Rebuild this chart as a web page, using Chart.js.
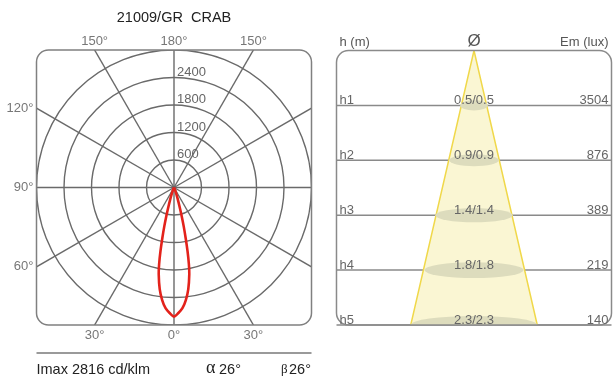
<!DOCTYPE html>
<html>
<head>
<meta charset="utf-8">
<script src="https://cdn.jsdelivr.net/npm/chart.js@4.4.1/dist/chart.umd.min.js"></script>
<style>
  html, body { margin: 0; padding: 0; background: #fff; }
  #wrap { position: relative; width: 613px; height: 377px; }
  canvas { position: absolute; top: 0; }
  #polar { left: 0; }
  #cone { left: 330px; }
</style>
</head>
<body>
<div id="wrap">
  <canvas id="polar" width="330" height="377"></canvas>
  <canvas id="cone" width="283" height="377"></canvas>
</div>
<script>
// ─── DATA ───────────────────────────────────────────────
const TITLE = '21009/GR  CRAB';
const IMAX = 2816;
const ALPHA = 26;
const BETA = 26;

// intensity (cd/klm) vs angle from nadir, same on both sides
const curveAngles = [0, 2, 4, 6, 8, 10, 11, 12, 13, 14, 15, 16, 18, 20, 25, 30, 40, 60, 90];
const curveValues = [2816, 2740, 2640, 2470, 2240, 1920, 1700, 1420, 1130, 880, 650, 470, 250, 140, 50, 15, 0, 0, 0];

// polar grid
const ringValues = [600, 1200, 1800, 2400, 3000];
const ringLabels = ['600', '1200', '1800', '2400'];
const spokeAngles = [0, 30, 60, 90, 120, 150, 180, 210, 240, 270, 300, 330];
const angleLabels = [-150, 180, 150, -120, -90, -60, -30, 0, 30];
const POLAR_MAX = 3000;

// cone table
const heightLabels = ['h1', 'h2', 'h3', 'h4', 'h5'];
const heights = [1, 2, 3, 4, 5];
const diameters = [0.5, 0.9, 1.4, 1.8, 2.3];
const diameterLabels = ['0.5/0.5', '0.9/0.9', '1.4/1.4', '1.8/1.8', '2.3/2.3'];
const luxValues = [3504, 876, 389, 219, 140];

const FONT = '"Liberation Sans", Arial, sans-serif';

function roundRect(ctx, x, y, w, h, r) {
    ctx.beginPath();
    ctx.moveTo(x + r, y);
    ctx.lineTo(x + w - r, y);
    ctx.arcTo(x + w, y, x + w, y + r, r);
    ctx.lineTo(x + w, y + h - r);
    ctx.arcTo(x + w, y + h, x + w - r, y + h, r);
    ctx.lineTo(x + r, y + h);
    ctx.arcTo(x, y + h, x, y + h - r, r);
    ctx.lineTo(x, y + r);
    ctx.arcTo(x, y, x + r, y, r);
    ctx.closePath();
}

// ─── POLAR DIAGRAM ──────────────────────────────────────
const curvePoints = [];
for (let i = curveAngles.length - 1; i >= 0; i--) {
    const a = -curveAngles[i] * Math.PI / 180;
    curvePoints.push({ x: curveValues[i] * Math.sin(a), y: -curveValues[i] * Math.cos(a) });
}
for (let i = 1; i < curveAngles.length; i++) {
    const a = curveAngles[i] * Math.PI / 180;
    curvePoints.push({ x: curveValues[i] * Math.sin(a), y: -curveValues[i] * Math.cos(a) });
}

const polarGrid = {
    id: 'polarGrid',
    beforeDatasetsDraw(chart) {
        const { ctx, chartArea: area, scales: { x, y } } = chart;
        const cx = x.getPixelForValue(0), cy = y.getPixelForValue(0);

        ctx.save();
        roundRect(ctx, area.left, area.top, area.width, area.height, 12);
        ctx.clip();
        ctx.strokeStyle = '#6a6a6a';
        ctx.lineWidth = 1.4;
        ringValues.forEach(v => {
            const r = x.getPixelForValue(v) - cx;
            ctx.beginPath();
            ctx.arc(cx, cy, r, 0, Math.PI * 2);
            ctx.stroke();
        });
        spokeAngles.forEach(a => {
            const rad = a * Math.PI / 180;
            ctx.beginPath();
            ctx.moveTo(cx, cy);
            ctx.lineTo(x.getPixelForValue(6000 * Math.sin(rad)), y.getPixelForValue(-6000 * Math.cos(rad)));
            ctx.stroke();
        });
        ctx.restore();

        ctx.save();
        ctx.strokeStyle = '#808080';
        ctx.lineWidth = 1.5;
        roundRect(ctx, area.left, area.top, area.width, area.height, 12);
        ctx.stroke();
        ctx.restore();
    },
    afterDraw(chart) {
        const { ctx, chartArea: area, scales: { x, y } } = chart;
        const cx = x.getPixelForValue(0);
        ctx.save();

        // radial values
        ctx.font = '13px ' + FONT;
        ctx.fillStyle = '#666';
        ctx.textAlign = 'left';
        ctx.textBaseline = 'alphabetic';
        ringLabels.forEach((t, i) => {
            ctx.fillText(t, cx + 3, y.getPixelForValue(ringValues[i]) - 2);
        });

        // angle labels where spokes meet the frame
        ctx.fillStyle = '#777';
        angleLabels.forEach(a => {
            const rad = a * Math.PI / 180;
            const s = Math.sin(rad), c = -Math.cos(rad);
            const t = POLAR_MAX / Math.max(Math.abs(s), Math.abs(c));
            const px = x.getPixelForValue(t * s), py = y.getPixelForValue(t * c);
            const txt = Math.abs(a) + '°';
            if (Math.abs(c) >= Math.abs(s)) {
                ctx.textAlign = 'center';
                if (c > 0) { ctx.textBaseline = 'bottom'; ctx.fillText(txt, px, py - 2); }
                else { ctx.textBaseline = 'top'; ctx.fillText(txt, px, py + 4); }
            } else {
                ctx.textAlign = 'right';
                ctx.textBaseline = 'middle';
                ctx.fillText(txt, px - 3, py);
            }
        });

        // title
        ctx.fillStyle = '#222';
        ctx.font = '14.5px ' + FONT;
        ctx.textAlign = 'center';
        ctx.textBaseline = 'middle';
        ctx.fillText(TITLE, cx, 18);

        // footer
        ctx.strokeStyle = '#9a9a9a';
        ctx.lineWidth = 2;
        ctx.beginPath();
        ctx.moveTo(area.left, 353);
        ctx.lineTo(area.right, 353);
        ctx.stroke();

        ctx.fillStyle = '#222';
        ctx.textAlign = 'left';
        ctx.textBaseline = 'alphabetic';
        ctx.font = '14.5px ' + FONT;
        ctx.fillText('Imax ' + IMAX + ' cd/klm', area.left, 374);
        ctx.font = '18px "Liberation Serif", serif';
        ctx.fillText('α', 206, 373);
        ctx.font = '14.5px ' + FONT;
        ctx.fillText(ALPHA + '°', 219, 374);
        ctx.font = '13px "Liberation Serif", serif';
        ctx.fillText('β', 281, 373);
        ctx.font = '14.5px ' + FONT;
        ctx.fillText(BETA + '°', 289, 374);
        ctx.restore();
    }
};

new Chart(document.getElementById('polar'), {
    type: 'scatter',
    data: {
        datasets: [{
            data: curvePoints,
            showLine: true,
            borderColor: '#e3221b',
            borderWidth: 2.6,
            pointRadius: 0,
            tension: 0.3,
            fill: false
        }]
    },
    options: {
        responsive: false,
        animation: false,
        events: [],
        layout: { padding: { left: 36.5, right: 18.5, top: 50, bottom: 52 } },
        plugins: { legend: { display: false }, tooltip: { enabled: false } },
        scales: {
            x: { type: 'linear', min: -POLAR_MAX, max: POLAR_MAX, display: false },
            y: { type: 'linear', min: -POLAR_MAX, max: POLAR_MAX, display: false }
        }
    },
    plugins: [polarGrid]
});

// ─── CONE DIAGRAM ───────────────────────────────────────
const lastH = heights[heights.length - 1];
const coneHalf = diameters[diameters.length - 1] / 2;

const coneTable = {
    id: 'coneTable',
    beforeDatasetsDraw(chart) {
        const { ctx, chartArea: area, scales: { y } } = chart;
        ctx.save();
        ctx.strokeStyle = '#8a8a8a';
        ctx.lineWidth = 1.5;
        heights.forEach(h => {
            const py = y.getPixelForValue(h);
            ctx.beginPath();
            ctx.moveTo(area.left, py);
            ctx.lineTo(area.right, py);
            ctx.stroke();
        });
        ctx.restore();
    },
    afterDatasetsDraw(chart) {
        const { ctx, chartArea: area, scales: { x, y } } = chart;
        const cx = x.getPixelForValue(0);
        ctx.save();
        roundRect(ctx, area.left, area.top, area.width, area.height, 12);
        ctx.clip();
        ctx.fillStyle = '#dddcbd';
        heights.forEach((h, i) => {
            const rx = x.getPixelForValue(diameters[i] / 2) - cx;
            const ry = 4 + 0.08 * rx;
            ctx.beginPath();
            ctx.ellipse(cx, y.getPixelForValue(h), rx, ry, 0, 0, Math.PI * 2);
            ctx.fill();
        });
        ctx.restore();

        ctx.save();
        ctx.strokeStyle = '#8a8a8a';
        ctx.lineWidth = 1.5;
        roundRect(ctx, area.left, area.top, area.width, area.height, 12);
        ctx.stroke();

        ctx.font = '13px ' + FONT;
        ctx.fillStyle = '#666';
        ctx.textBaseline = 'alphabetic';
        heights.forEach((h, i) => {
            const py = y.getPixelForValue(h) - 1.5;
            ctx.textAlign = 'left';
            ctx.fillText(heightLabels[i], area.left + 3, py);
            ctx.textAlign = 'center';
            ctx.fillText(diameterLabels[i], cx, py);
            ctx.textAlign = 'right';
            ctx.fillText(String(luxValues[i]), area.right - 3, py);
        });

        ctx.fillStyle = '#555';
        ctx.textAlign = 'left';
        ctx.fillText('h (m)', area.left + 3, 46);
        ctx.textAlign = 'right';
        ctx.fillText('Em (lux)', area.right - 3, 46);
        ctx.textAlign = 'center';
        ctx.font = '17px ' + FONT;
        ctx.fillText('Ø', cx, 46);
        ctx.restore();
    }
};

new Chart(document.getElementById('cone'), {
    type: 'scatter',
    data: {
        datasets: [{
            data: [{ x: -coneHalf, y: lastH }, { x: 0, y: 0 }, { x: coneHalf, y: lastH }],
            showLine: true,
            borderColor: '#f0d84a',
            borderWidth: 1.5,
            backgroundColor: '#faf6d3',
            fill: { value: lastH },
            pointRadius: 0,
            tension: 0
        }]
    },
    options: {
        responsive: false,
        animation: false,
        events: [],
        layout: { padding: { left: 6.5, right: 1.5, top: 50.5, bottom: 52 } },
        plugins: { legend: { display: false }, tooltip: { enabled: false } },
        scales: {
            x: { type: 'linear', min: -2.5, max: 2.5, display: false },
            y: { type: 'linear', min: 0, max: lastH, reverse: true, display: false }
        }
    },
    plugins: [coneTable]
});
</script>
</body>
</html>
